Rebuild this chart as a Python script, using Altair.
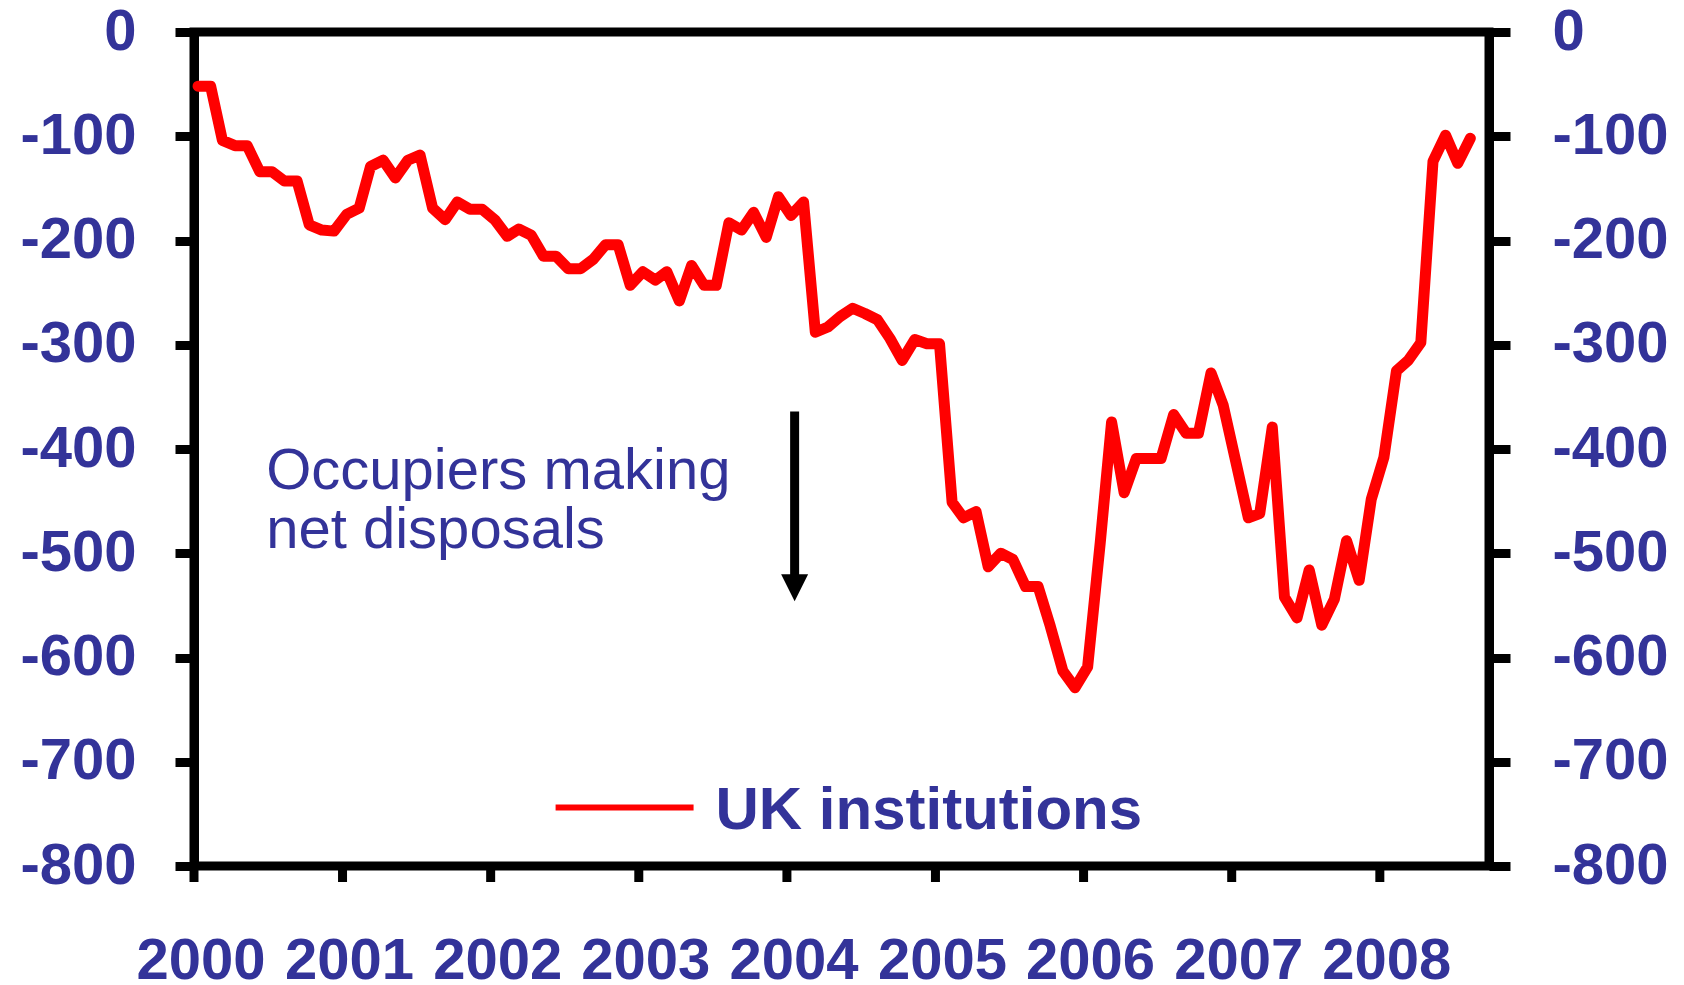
import altair as alt
import pandas as pd

# ---------------- data ----------------
years = list(range(2000, 2009))
year_labels = [str(y) for y in years]
months = [f"{y}-{m:02d}-11" for y in years for m in range(1, 13)][:104]

uk_institutions = [
    # 2000
    -52, -52, -104, -109, -109, -134, -134, -143, -143, -185, -190, -191,
    # 2001
    -175, -169, -129, -123, -140, -123, -118, -169, -180, -163, -170, -170,
    # 2002
    -180, -196, -189, -195, -215, -215, -227, -227, -218, -204, -204, -243,
    # 2003
    -230, -238, -230, -258, -224, -243, -243, -183, -190, -173, -197, -158,
    # 2004
    -176, -163, -288, -283, -273, -265, -270, -276, -294, -315, -295, -299,
    # 2005
    -299, -451, -466, -460, -513, -500, -506, -532, -532, -570, -613, -629,
    # 2006
    -609, -490, -374, -442, -409, -409, -409, -367, -385, -385, -327, -358,
    # 2007
    -412, -466, -462, -379, -542, -562, -516, -569, -544, -488, -526, -448,
    # 2008
    -408, -325, -315, -298, -124, -99, -126, -102,
]
y_ticks = list(range(-800, 1, 100))
series_name = "UK institutions"
annotation_lines = ["Occupiers making", "net disposals"]

# ---------------- styling ----------------
NAVY = "#333399"
FONT = "Liberation Sans"
LABEL_SIZE = 58
PLOT_W, PLOT_H = 1295, 834


def ts(s):
    """ISO date -> epoch milliseconds (UTC)."""
    return int(pd.Timestamp(s, tz="UTC").value // 10**6)


df = pd.DataFrame({"date": [ts(m) for m in months], "value": uk_institutions})
years_df = pd.DataFrame({"t": [ts(f"{y}-01-01") for y in years],
                         "label": year_labels})
one = pd.DataFrame({"k": [0]})

x_scale = alt.Scale(type="utc", domain=[ts("2000-01-01"), ts("2008-09-26")])
y_scale = alt.Scale(domain=[-800, 0], nice=False, zero=False)

common_axis = dict(
    labelFont=FONT, labelFontSize=LABEL_SIZE, labelFontWeight="bold",
    labelColor=NAVY, labelFlush=False, labelOverlap=False,
    tickColor="black", tickWidth=9, domainColor="black", domainWidth=9,
    grid=False, title=None,
)
hyphen_labels = "datum.value == 0 ? '0' : '-' + format(abs(datum.value), 'd')"

y_left_axis = alt.Axis(orient="left", values=y_ticks, labelPadding=39,
                       tickSize=19, labelExpr=hyphen_labels, **common_axis)
y_right_axis = alt.Axis(orient="right", values=y_ticks, labelPadding=42,
                        tickSize=21, labelAlign="left", labelExpr=hyphen_labels,
                        **common_axis)


def xd(s):
    return alt.X(datum=ts(s), type="temporal", scale=x_scale, axis=None)


def yd(v):
    return alt.Y(datum=v, type="quantitative", scale=y_scale, axis=None)


line = alt.Chart(df).mark_line(
    color="#FF0000", strokeWidth=11, strokeJoin="round", strokeCap="round"
).encode(
    x=alt.X("date:T", scale=x_scale, axis=None),
    y=alt.Y("value:Q", scale=y_scale, axis=y_left_axis),
)

right_axis_layer = alt.Chart(df).mark_line(strokeOpacity=0).encode(
    x=alt.X("date:T", scale=x_scale, axis=None),
    y=alt.Y("value:Q", scale=y_scale, axis=y_right_axis),
)

# x axis: year ticks below the frame and year labels, through the x scale
x_ticks = alt.Chart(years_df).mark_rule(color="black", strokeWidth=9).encode(
    x=alt.X("t:T", scale=x_scale, axis=None),
    y=alt.value(PLOT_H),
    y2=alt.value(PLOT_H + 16),
)
x_labels = alt.Chart(years_df).mark_text(
    font=FONT, fontSize=LABEL_SIZE, fontWeight="bold", color=NAVY,
    align="center", baseline="alphabetic", dx=7,
).encode(
    x=alt.X("t:T", scale=x_scale, axis=None),
    y=alt.value(PLOT_H + 113),
    text="label:N",
)

annotation = alt.Chart(one).mark_text(
    text=annotation_lines, font=FONT, fontSize=58, color=NAVY,
    align="left", baseline="alphabetic", lineHeight=59,
).encode(x=xd("2000-06-27"), y=yd(-438))

arrow_shaft = alt.Chart(one).mark_rule(color="black", strokeWidth=9).encode(
    x=xd("2004-01-20"), y=yd(-364), y2=alt.Y2(datum=-527)
)
arrow_head = alt.Chart(one).mark_point(
    shape="M-1,-1L1,-1L0,1Z", size=729, filled=True, color="black", opacity=1,
    strokeWidth=0,
).encode(x=xd("2004-01-20"), y=yd(-533))

legend_line = alt.Chart(one).mark_rule(color="#FF0000", strokeWidth=6).encode(
    x=xd("2002-06-10"), x2=alt.X2(datum=ts("2003-05-16")), y=yd(-744),
)
legend_text = alt.Chart(one).mark_text(
    text=series_name, font=FONT, fontSize=60, fontWeight="bold", color=NAVY,
    align="left", baseline="alphabetic",
).encode(x=xd("2003-07-09"), y=yd(-764.5))

chart = alt.layer(
    line, right_axis_layer, x_ticks, x_labels, annotation, arrow_shaft,
    arrow_head, legend_line, legend_text,
).properties(
    width=PLOT_W, height=PLOT_H,
    autosize=alt.AutoSizeParams(type="none"),
    padding={"left": 186, "top": 24, "right": 187, "bottom": 130},
    background="white",
).configure_view(stroke="black", strokeWidth=9)

chart.save("out.html", embed_options={"renderer": "svg", "actions": False})
